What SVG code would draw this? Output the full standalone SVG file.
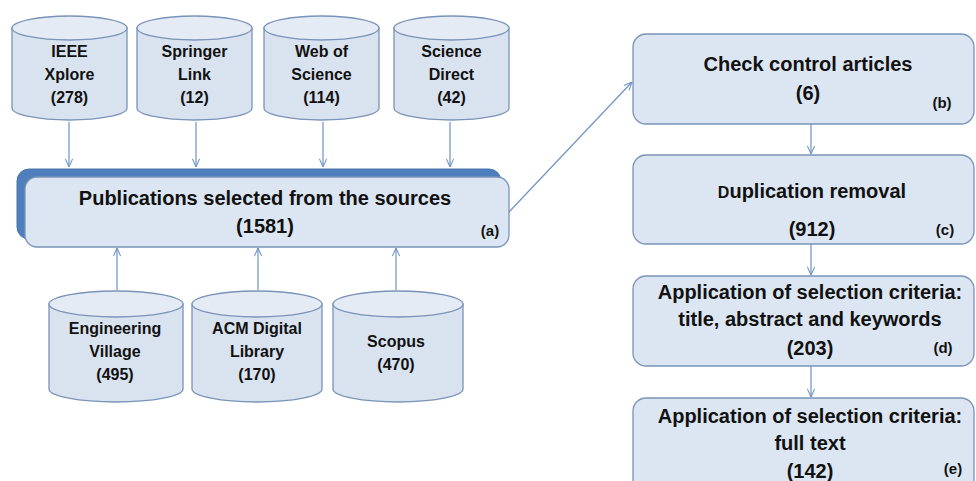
<svg xmlns="http://www.w3.org/2000/svg" width="976" height="481" viewBox="0 0 976 481">
<defs>
<marker id="arr" viewBox="0 0 10 10" refX="10" refY="5" markerWidth="9" markerHeight="9" markerUnits="userSpaceOnUse" orient="auto">
<path d="M1,1 L10,5 L1,9" fill="none" stroke="#6f92c4" stroke-width="1.2"/>
</marker>
</defs>
<style>
.body{fill:#d9e3ef;stroke:#7a93b8;stroke-width:1.3}
.top{fill:#e4ebf5;stroke:#7a93b8;stroke-width:1.3}
.box{fill:#dce6f2;stroke:#7a93b8;stroke-width:1.3}
.shadow{fill:#4f7fbd;stroke:#4a76ae;stroke-width:1}
.t{font-family:"Liberation Sans",Arial,sans-serif;font-weight:bold;fill:#111;text-anchor:middle}
.c{font-size:16px}
.m{font-size:20px}
.s{font-size:15px}
.conn line{stroke:#6f92c4;stroke-width:1.2;marker-end:url(#arr)}
</style>
<rect width="976" height="481" fill="#fff"/>

<g id="ieee">
<path class="body" d="M12,28 L12,108 A57.5,12 0 0 0 127,108 L127,28 Z"/>
<ellipse class="top" cx="69.5" cy="28" rx="57.5" ry="12"/>
<text class="t c" x="69.5" y="57">IEEE</text>
<text class="t c" x="69.5" y="80">Xplore</text>
<text class="t c" x="69.5" y="103">(278)</text>
</g>
<g id="springer">
<path class="body" d="M137,28 L137,108 A57.5,12 0 0 0 252,108 L252,28 Z"/>
<ellipse class="top" cx="194.5" cy="28" rx="57.5" ry="12"/>
<text class="t c" x="194.5" y="57">Springer</text>
<text class="t c" x="194.5" y="80">Link</text>
<text class="t c" x="194.5" y="103">(12)</text>
</g>
<g id="wos">
<path class="body" d="M264,28 L264,108 A57.5,12 0 0 0 379,108 L379,28 Z"/>
<ellipse class="top" cx="321.5" cy="28" rx="57.5" ry="12"/>
<text class="t c" x="321.5" y="57">Web of</text>
<text class="t c" x="321.5" y="80">Science</text>
<text class="t c" x="321.5" y="103">(114)</text>
</g>
<g id="sd">
<path class="body" d="M394,28 L394,108 A57.5,12 0 0 0 509,108 L509,28 Z"/>
<ellipse class="top" cx="451.5" cy="28" rx="57.5" ry="12"/>
<text class="t c" x="451.5" y="57">Science</text>
<text class="t c" x="451.5" y="80">Direct</text>
<text class="t c" x="451.5" y="103">(42)</text>
</g>

<g id="a">
<rect class="shadow" x="17" y="169" width="484" height="70" rx="12"/>
<rect class="box" x="25" y="177" width="484" height="70" rx="12"/>
<text class="t m" x="265" y="205">Publications  selected from the sources</text>
<text class="t m" x="265" y="233">(1581)</text>
<text class="t s" x="490" y="236">(a)</text>
</g>

<g id="ev">
<path class="body" d="M49,304 L49,389 A67,13 0 0 0 183,389 L183,304 Z"/>
<ellipse class="top" cx="116" cy="304" rx="67" ry="13"/>
<text class="t c" x="115" y="334">Engineering</text>
<text class="t c" x="115" y="357">Village</text>
<text class="t c" x="115" y="380">(495)</text>
</g>
<g id="acm">
<path class="body" d="M192,304 L192,389 A65,13 0 0 0 322,389 L322,304 Z"/>
<ellipse class="top" cx="257" cy="304" rx="65" ry="13"/>
<text class="t c" x="257" y="334">ACM Digital</text>
<text class="t c" x="257" y="357">Library</text>
<text class="t c" x="257" y="380">(170)</text>
</g>
<g id="scopus">
<path class="body" d="M333,304 L333,389 A65,13 0 0 0 463,389 L463,304 Z"/>
<ellipse class="top" cx="398" cy="304" rx="65" ry="13"/>
<text class="t c" x="396" y="347">Scopus</text>
<text class="t c" x="396" y="370">(470)</text>
</g>

<g id="b">
<rect class="box" x="633" y="34" width="341" height="90" rx="13"/>
<text class="t m" x="808" y="71">Check control articles</text>
<text class="t m" x="808" y="100">(6)</text>
<text class="t s" x="942" y="108">(b)</text>
</g>
<g id="c">
<rect class="box" x="633" y="155" width="341" height="89" rx="13"/>
<text class="t m" x="812" y="198"><tspan font-size="16">D</tspan>uplication removal</text>
<text class="t m" x="812" y="236">(912)</text>
<text class="t s" x="945" y="235">(c)</text>
</g>
<g id="d">
<rect class="box" x="633" y="276" width="341" height="90" rx="13"/>
<text class="t m" x="810" y="299">Application of selection criteria:</text>
<text class="t m" x="810" y="326">title, abstract and keywords</text>
<text class="t m" x="810" y="355">(203)</text>
<text class="t s" x="943" y="353">(d)</text>
</g>
<g id="e">
<rect class="box" x="633" y="398" width="341" height="100" rx="13"/>
<text class="t m" x="810" y="423">Application of selection criteria:</text>
<text class="t m" x="810" y="450">full text</text>
<text class="t m" x="810" y="478">(142)</text>
<text class="t s" x="953" y="474">(e)</text>
</g>

<g id="connectors" class="conn">
<line x1="69" y1="122" x2="69" y2="167"/>
<line x1="196" y1="122" x2="196" y2="167"/>
<line x1="323" y1="122" x2="323" y2="167"/>
<line x1="450" y1="122" x2="450" y2="167"/>
<line x1="117" y1="290" x2="117" y2="248"/>
<line x1="258" y1="290" x2="258" y2="248"/>
<line x1="396" y1="290" x2="396" y2="248"/>
<line x1="509" y1="212" x2="632" y2="82"/>
<line x1="811" y1="124" x2="811" y2="154"/>
<line x1="811" y1="244" x2="811" y2="275"/>
<line x1="811" y1="366" x2="811" y2="397"/>
</g>
</svg>
